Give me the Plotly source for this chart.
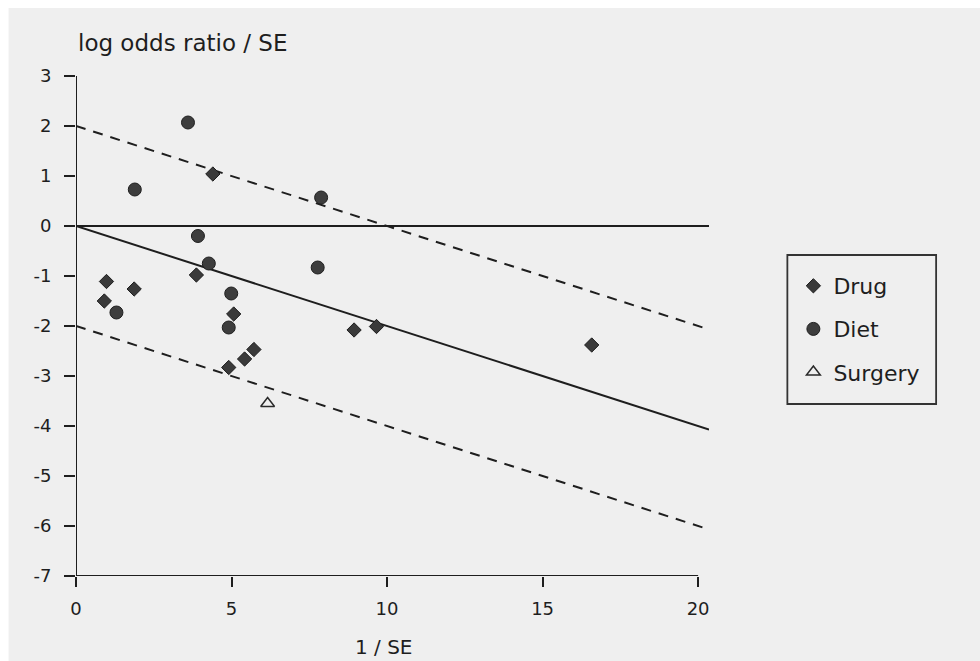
import plotly.graph_objects as go

# ---- data ----
drug_x = [4.40, 3.87, 0.98, 1.87, 0.91, 5.07, 5.72, 5.42, 4.91, 8.94, 9.66, 16.58]
drug_y = [1.04, -0.98, -1.11, -1.26, -1.50, -1.76, -2.47, -2.66, -2.83, -2.08, -2.01, -2.38]

diet_x = [3.60, 1.89, 7.88, 3.92, 4.27, 7.77, 1.30, 4.99, 4.91]
diet_y = [2.07, 0.73, 0.57, -0.20, -0.75, -0.83, -1.73, -1.35, -2.03]

surgery_x = [6.16]
surgery_y = [-3.55]

line_x = [0, 20.35]
fit_y = [0, -4.07]
upper_y = [2, -2.07]
lower_y = [-2, -6.07]
zero_y = [0, 0]

x_ticks = [0, 5, 10, 15, 20]
x_ticktext = ["0", "5", "10", "15", "20"]
y_ticks = [3, 2, 1, 0, -1, -2, -3, -4, -5, -6, -7]
y_ticktext = ["3", "2", "1", "0", "-1", "-2", "-3", "-4", "-5", "-6", "-7"]

FONT = "DejaVu Sans, Liberation Sans, Arial, sans-serif"
INK = "#1e1e1e"
BG = "#efefef"

fig = go.Figure()

# reference lines
fig.add_trace(go.Scatter(x=line_x, y=zero_y, mode="lines", showlegend=False,
                         line=dict(color=INK, width=2), hoverinfo="skip"))
fig.add_trace(go.Scatter(x=line_x, y=fit_y, mode="lines", showlegend=False,
                         line=dict(color=INK, width=2), hoverinfo="skip"))
fig.add_trace(go.Scatter(x=line_x, y=upper_y, mode="lines", showlegend=False,
                         line=dict(color=INK, width=2, dash="10px,8px"), hoverinfo="skip"))
fig.add_trace(go.Scatter(x=line_x, y=lower_y, mode="lines", showlegend=False,
                         line=dict(color=INK, width=2, dash="10px,8px"), hoverinfo="skip"))

# data points
fig.add_trace(go.Scatter(x=drug_x, y=drug_y, mode="markers", name="Drug", legendgroup="a",
                         marker=dict(symbol="diamond", size=11, color="#3a3a3a",
                                     line=dict(color="#1e1e1e", width=1))))
fig.add_trace(go.Scatter(x=diet_x, y=diet_y, mode="markers", name="Diet", legendgroup="b",
                         marker=dict(symbol="circle", size=13, color="#3d3d3d",
                                     line=dict(color="#1e1e1e", width=1))))
fig.add_trace(go.Scatter(x=surgery_x, y=surgery_y, mode="markers", name="Surgery", legendgroup="c",
                         marker=dict(symbol="triangle-up-open", size=12, color="#2a2a2a",
                                     line=dict(color="#2a2a2a", width=1.5))))

# axis lines drawn from 0..20 and -7..3
fig.add_shape(type="line", xref="x", yref="y", x0=0, x1=20, y0=-7, y1=-7,
              line=dict(color=INK, width=2))
fig.add_shape(type="line", xref="x", yref="y", x0=0, x1=0, y0=-7, y1=3,
              line=dict(color=INK, width=2))

# scan margins (white strips at the top and left edge)
fig.add_shape(type="rect", xref="paper", yref="paper",
              x0=-0.12, x1=1.43, y0=1.136, y1=1.16,
              line=dict(width=0), fillcolor="#ffffff", layer="below")
fig.add_shape(type="rect", xref="paper", yref="paper",
              x0=-0.12, x1=-0.1065, y0=-0.18, y1=1.16,
              line=dict(width=0), fillcolor="#ffffff", layer="below")

# legend frame
fig.add_shape(type="rect", xref="paper", yref="paper",
              x0=1.1238, x1=1.3588, y0=0.344, y1=0.642,
              line=dict(color="#333333", width=1.8), fillcolor=BG, layer="below")

# axis titles
fig.add_annotation(text="log odds ratio / SE", xref="paper", yref="paper",
                   x=0.0, y=1.066, xanchor="left", yanchor="middle", showarrow=False,
                   font=dict(family=FONT, size=23, color=INK))
fig.add_annotation(text="1 / SE", xref="x", yref="paper",
                   x=9.9, y=-0.142, xanchor="center", yanchor="middle", showarrow=False,
                   font=dict(family=FONT, size=20, color=INK))

fig.update_layout(
    width=980, height=661,
    margin=dict(l=75.5, r=270.5, t=76, b=85, pad=0),
    paper_bgcolor=BG, plot_bgcolor="rgba(0,0,0,0)",
    font=dict(family=FONT, color=INK),
    xaxis=dict(range=[0, 20.35], showline=False, showgrid=False, zeroline=False,
               ticks="outside", ticklen=10, tickwidth=2, tickcolor=INK,
               tickvals=x_ticks, ticktext=x_ticktext, ticklabelstandoff=6,
               tickfont=dict(family=FONT, size=18, color=INK)),
    yaxis=dict(range=[-7, 3], showline=False, showgrid=False, zeroline=False,
               ticks="outside", ticklen=11, tickwidth=2, tickcolor=INK,
               tickvals=y_ticks, ticktext=y_ticktext, ticklabelstandoff=9,
               tickfont=dict(family=FONT, size=18, color=INK)),
    legend=dict(x=1.1333, y=0.622, xanchor="left", yanchor="top",
                bgcolor="rgba(0,0,0,0)", borderwidth=0,
                font=dict(family=FONT, size=22, color=INK),
                tracegroupgap=11.5, itemsizing="trace"),
    showlegend=True,
)

fig.write_html("out.html")
